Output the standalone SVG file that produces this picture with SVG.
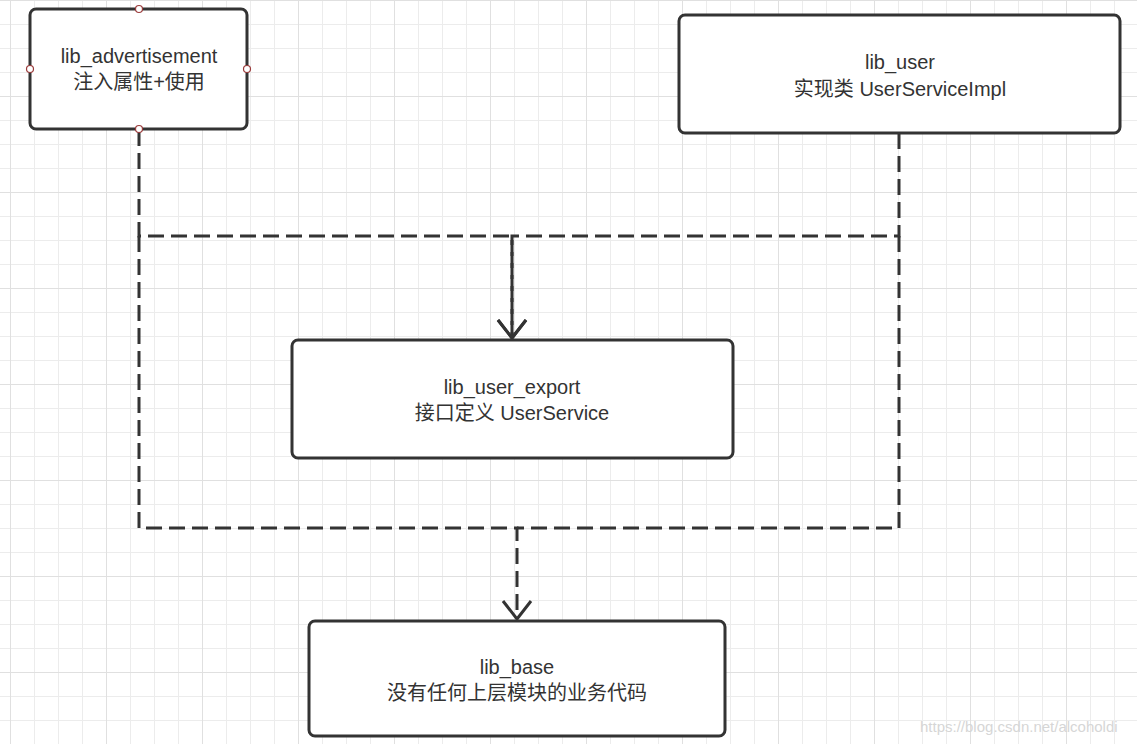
<svg xmlns="http://www.w3.org/2000/svg" width="1137" height="744" viewBox="0 0 1137 744">
  <defs>
    <pattern id="gridSmall" x="10" y="0" width="24" height="24" patternUnits="userSpaceOnUse">
      <path d="M0.5,0 V24 M0,0.5 H24" fill="none" stroke="#ececec" stroke-width="1"/>
    </pattern>
    <pattern id="gridBig" x="10" y="0" width="96" height="96" patternUnits="userSpaceOnUse">
      <path d="M0.5,0 V96 M0,0.5 H96" fill="none" stroke="#e0e0e0" stroke-width="1"/>
    </pattern>
    <marker id="arrow" markerUnits="userSpaceOnUse" viewBox="-22 -18 26 36" refX="0" refY="0" markerWidth="26" markerHeight="36" orient="auto" overflow="visible">
      <path d="M-18,-14 L0,0 L-18,14" fill="none" stroke="#333333" stroke-width="3" stroke-dasharray="none" stroke-linejoin="miter"/>
    </marker>
    <style>
      .box { fill: #ffffff; stroke: #333333; stroke-width: 3; }
      .label { font-family: "Liberation Sans", "Noto Sans CJK SC", sans-serif; font-size: 20px; fill: #333333; text-anchor: middle; }
      .conn { fill: none; stroke: #333333; stroke-width: 3; stroke-dasharray: 16 7; }
      .port { fill: #ffffff; stroke: #9b3b3b; stroke-width: 1.2; }
      .wm { font-family: "Liberation Sans", sans-serif; font-size: 15px; fill: #d6d6d6; }
    </style>
  </defs>

  <rect x="0" y="0" width="1137" height="744" fill="#ffffff"/>
  <rect x="0" y="0" width="1137" height="744" fill="url(#gridSmall)"/>
  <rect x="0" y="0" width="1137" height="744" fill="url(#gridBig)"/>

  <g id="connectors">
    <path class="conn" d="M139,130 V236 H512 V338" marker-end="url(#arrow)"/>
    <path class="conn" d="M899,133 V236 H512 V338" marker-end="url(#arrow)"/>
    <path class="conn" d="M139,236 V528 H517 V619" marker-end="url(#arrow)"/>
    <path class="conn" d="M899,236 V528 H517"/>
  </g>

  <g id="lib_advertisement">
    <rect class="box" x="30" y="9" width="217" height="120" rx="6"/>
    <text class="label" x="139" y="63">lib_advertisement</text>
    <text class="label" x="139" y="89">注入属性+使用</text>
    <circle class="port" cx="139" cy="9" r="3.5"/>
    <circle class="port" cx="30" cy="69" r="3.5"/>
    <circle class="port" cx="247" cy="69" r="3.5"/>
    <circle class="port" cx="139" cy="129" r="3.5"/>
  </g>

  <g id="lib_user">
    <rect class="box" x="679" y="15" width="441" height="118" rx="6"/>
    <text class="label" x="900" y="69">lib_user</text>
    <text class="label" x="900" y="96">实现类 UserServiceImpl</text>
  </g>

  <g id="lib_user_export">
    <rect class="box" x="292" y="340" width="441" height="118" rx="6"/>
    <text class="label" x="512" y="394">lib_user_export</text>
    <text class="label" x="512" y="420">接口定义 UserService</text>
  </g>

  <g id="lib_base">
    <rect class="box" x="309" y="621" width="416" height="115" rx="6"/>
    <text class="label" x="517" y="674">lib_base</text>
    <text class="label" x="517" y="700">没有任何上层模块的业务代码</text>
  </g>

  <text class="wm" x="920" y="732">https://blog.csdn.net/alcoholdi</text>
</svg>
